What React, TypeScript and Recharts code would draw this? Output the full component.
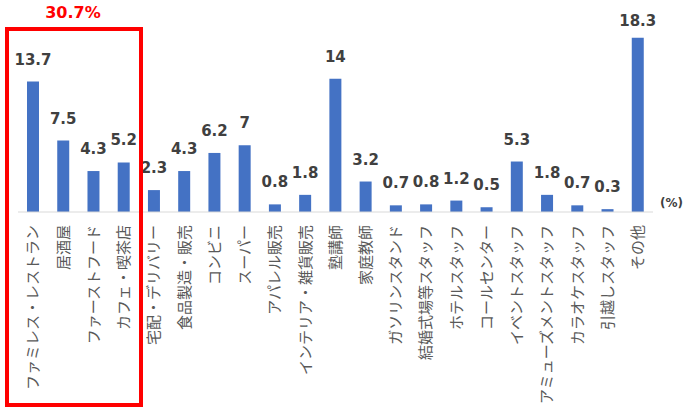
import React from 'react'
import { BarChart, Bar, XAxis, YAxis, LabelList } from 'recharts'

const categories = [
  'ファミレス・レストラン',
  '居酒屋',
  'ファーストフード',
  'カフェ・喫茶店',
  '宅配・デリバリー',
  '食品製造・販売',
  'コンビニ',
  'スーパー',
  'アパレル販売',
  'インテリア・雑貨販売',
  '塾講師',
  '家庭教師',
  'ガソリンスタンド',
  '結婚式場等スタッフ',
  'ホテルスタッフ',
  'コールセンター',
  'イベントスタッフ',
  'アミューズメントスタッフ',
  'カラオケスタッフ',
  '引越しスタッフ',
  'その他',
]

const shares = [13.7, 7.5, 4.3, 5.2, 2.3, 4.3, 6.2, 7, 0.8, 1.8, 14, 3.2, 0.7, 0.8, 1.2, 0.5, 5.3, 1.8, 0.7, 0.3, 18.3]

const highlightTotal = '30.7%'
const unitLabel = '(%)'

const data = categories.map((name, i) => ({ name, value: shares[i] }))

const FONT = '"Noto Sans CJK JP", "Noto Sans", sans-serif'
const NUM_FONT = '"DejaVu Sans", "Noto Sans CJK JP", sans-serif'

function CategoryTick(props: any) {
  const { x, y, payload } = props
  return (
    <g transform={`translate(${x},${y + 5})`}>
      <text
        transform="rotate(-90)"
        textAnchor="end"
        dy="0.35em"
        fill="#595959"
        fontSize={15}
        fontFamily={FONT}
      >
        {payload.value}
      </text>
    </g>
  )
}

function ValueLabel(props: any) {
  const { x, y, width, value } = props
  const ty = Math.max(y - 17, 26)
  return (
    <text
      x={x + width / 2}
      y={ty}
      textAnchor="middle"
      fill="#404040"
      fontSize={15}
      fontWeight="bold"
      fontFamily={NUM_FONT}
    >
      {value}
    </text>
  )
}

export default function App() {
  return (
    <div style={{ position: 'absolute', left: 0, top: 0, width: 700, height: 420, background: '#fff' }}>
      <BarChart
        width={700}
        height={420}
        data={data}
        margin={{ top: 21.5, right: 47, left: 18, bottom: 13 }}
      >
        <XAxis
          dataKey="name"
          interval={0}
          tickLine={false}
          axisLine={{ stroke: '#d9d9d9', strokeWidth: 1 }}
          height={195}
          tick={<CategoryTick />}
        />
        <YAxis hide domain={[0, 20]} />
        <Bar dataKey="value" fill="#4472c4" barSize={12} isAnimationActive={false}>
          <LabelList dataKey="value" content={<ValueLabel />} />
        </Bar>
      </BarChart>
      <div
        style={{
          position: 'absolute',
          left: 23,
          top: 27,
          width: 138,
          height: 380,
          marginLeft: -18,
          border: '4px solid #ff0000',
          boxSizing: 'border-box',
        }}
      />
      <div
        style={{
          position: 'absolute',
          left: 23,
          top: 3,
          width: 100,
          textAlign: 'center',
          color: '#ff0000',
          fontSize: 16,
          fontWeight: 'bold',
          fontFamily: NUM_FONT,
          lineHeight: '20px',
        }}
      >
        {highlightTotal}
      </div>
      <div
        style={{
          position: 'absolute',
          left: 660,
          top: 195,
          color: '#404040',
          fontSize: 12,
          fontWeight: 'bold',
          fontFamily: NUM_FONT,
          lineHeight: '16px',
        }}
      >
        {unitLabel}
      </div>
    </div>
  )
}
